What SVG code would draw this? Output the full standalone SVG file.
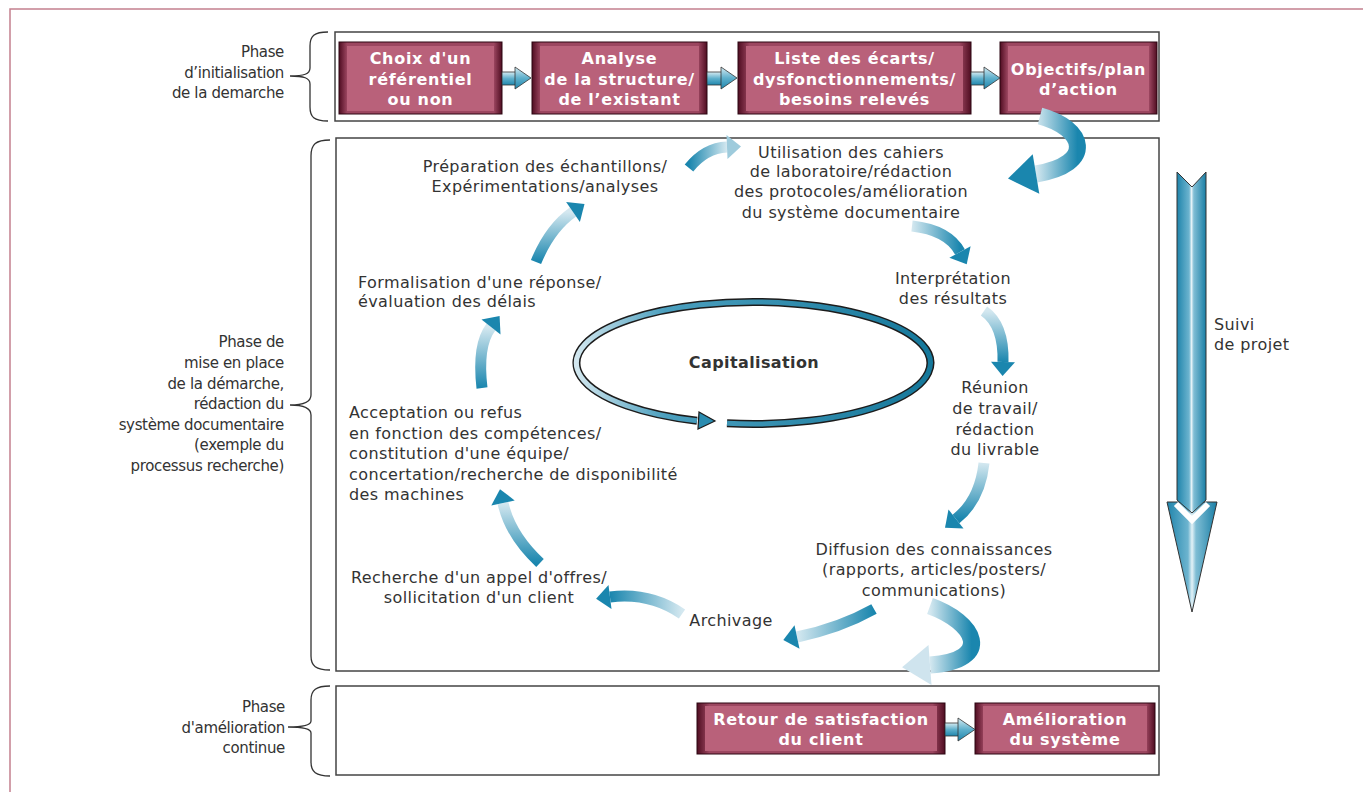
<svg xmlns="http://www.w3.org/2000/svg" width="1363" height="792" viewBox="0 0 1363 792">
<style>
.t{font-family:"DejaVu Sans",Verdana,sans-serif;font-size:16px;fill:#333;letter-spacing:0.4px}
.c{text-anchor:middle}
.ph{font-size:15px;text-anchor:end;letter-spacing:-0.35px}
.bx{font-family:"DejaVu Sans",Verdana,sans-serif;font-weight:bold;font-size:16px;fill:#fff;text-anchor:middle;letter-spacing:0.7px}
.panel{fill:#fff;stroke:#444;stroke-width:1.5}
.brace{fill:none;stroke:#333;stroke-width:1.3}
.bo{fill:url(#bev);stroke:#2d0612;stroke-width:1}
.bi{fill:#b9617a}
.sa{fill:url(#sa);stroke:#333;stroke-width:0.8}
.rib{fill:none;stroke-width:11}
.big{fill:none;stroke-width:17}
</style>
<defs>
<linearGradient id="bev" x1="0" y1="0" x2="1" y2="0">
<stop offset="0" stop-color="#4f0d21"/><stop offset="0.05" stop-color="#9c4660"/><stop offset="0.95" stop-color="#9c4660"/><stop offset="1" stop-color="#4f0d21"/>
</linearGradient>
<linearGradient id="sa" x1="0" y1="0" x2="0" y2="1">
<stop offset="0" stop-color="#d6ebf2"/><stop offset="0.5" stop-color="#5fb0cc"/><stop offset="1" stop-color="#1f86ad"/>
</linearGradient>
<linearGradient id="rA" x1="0" y1="0" x2="1" y2="0">
<stop offset="0" stop-color="#1a86ae"/><stop offset="1" stop-color="#d4e8f0"/>
</linearGradient>
<linearGradient id="rB" x1="1" y1="0" x2="0" y2="0">
<stop offset="0" stop-color="#1a86ae"/><stop offset="1" stop-color="#d4e8f0"/>
</linearGradient>
<linearGradient id="rC" x1="0" y1="0" x2="0" y2="1">
<stop offset="0" stop-color="#d4e8f0"/><stop offset="1" stop-color="#1a86ae"/>
</linearGradient>
<linearGradient id="rD" x1="0" y1="1" x2="0" y2="0">
<stop offset="0" stop-color="#1a86ae"/><stop offset="1" stop-color="#d4e8f0"/>
</linearGradient>
<linearGradient id="vs" x1="0" y1="0" x2="1" y2="0">
<stop offset="0" stop-color="#1f84ab"/><stop offset="0.42" stop-color="#6db4cf"/><stop offset="0.5" stop-color="#e4f2f7"/><stop offset="0.58" stop-color="#7fbdd4"/><stop offset="1" stop-color="#1a7fa6"/>
</linearGradient>
<linearGradient id="ring" x1="0" y1="0" x2="1" y2="0">
<stop offset="0" stop-color="#d2e7ef"/><stop offset="0.25" stop-color="#4b9fbe"/><stop offset="1" stop-color="#15789b"/>
</linearGradient>
</defs>

<rect x="10" y="9" width="1400" height="800" fill="none" stroke="#c4808f" stroke-width="1.5"/>

<!-- panels -->
<g id="panel-init">
<rect class="panel" x="335" y="32" width="824" height="89"/>
<path class="brace" d="M328,32 C314,32 310,36 310,46 L310,68 C310,74 304,76 290,76 C304,76 310,78 310,84 L310,107 C310,117 314,121 328,121"/>
<text class="t ph" x="284" y="57">Phase</text>
<text class="t ph" x="284" y="78">d’initialisation</text>
<text class="t ph" x="284" y="98">de la demarche</text>
</g>
<g id="panel-mise">
<rect class="panel" x="336" y="138" width="823" height="533"/>
<path class="brace" d="M330,140 C316,140 311,144 311,156 L311,395 C311,401 305,405 290,405 C305,405 311,409 311,415 L311,656 C311,666 316,670 330,670"/>
<text class="t ph" x="284" y="347">Phase de</text>
<text class="t ph" x="284" y="368">mise en place</text>
<text class="t ph" x="284" y="389">de la démarche,</text>
<text class="t ph" x="284" y="409">rédaction du</text>
<text class="t ph" x="284" y="430">système documentaire</text>
<text class="t ph" x="284" y="450">(exemple du</text>
<text class="t ph" x="284" y="471">processus recherche)</text>
</g>
<g id="panel-amelio">
<rect class="panel" x="336" y="686" width="823" height="89"/>
<path class="brace" d="M330,686 C316,686 311,690 311,700 L311,721 C311,725 305,727 288,727 C305,727 311,729 311,733 L311,762 C311,772 316,776 330,776"/>
<text class="t ph" x="285" y="712">Phase</text>
<text class="t ph" x="285" y="733">d'amélioration</text>
<text class="t ph" x="285" y="753">continue</text>
</g>

<!-- box nodes -->
<g id="box-choix">
<rect class="bo" x="339" y="42" width="163" height="72"/>
<rect class="bi" x="347" y="46" width="147" height="65"/>
<text class="bx" x="420.5" y="64">Choix d'un</text>
<text class="bx" x="420.5" y="84.5">référentiel</text>
<text class="bx" x="420.5" y="105">ou non</text>
</g>
<g id="box-analyse">
<rect class="bo" x="532" y="42" width="175" height="72"/>
<rect class="bi" x="540" y="46" width="159" height="65"/>
<text class="bx" x="619.5" y="64">Analyse</text>
<text class="bx" x="619.5" y="84.5">de la structure/</text>
<text class="bx" x="619.5" y="105">de l’existant</text>
</g>
<g id="box-liste">
<rect class="bo" x="738" y="42" width="233" height="72"/>
<rect class="bi" x="746" y="46" width="217" height="65"/>
<text class="bx" x="854.5" y="64">Liste des écarts/</text>
<text class="bx" x="854.5" y="84.5">dysfonctionnements/</text>
<text class="bx" x="854.5" y="105">besoins relevés</text>
</g>
<g id="box-objectifs">
<rect class="bo" x="1000" y="42" width="157" height="72"/>
<rect class="bi" x="1008" y="46" width="141" height="65"/>
<text class="bx" x="1078.5" y="75">Objectifs/plan</text>
<text class="bx" x="1078.5" y="95">d’action</text>
</g>
<g id="box-retour">
<rect class="bo" x="697" y="703" width="248" height="51"/>
<rect class="bi" x="705" y="706" width="232" height="45"/>
<text class="bx" x="821" y="725">Retour de satisfaction</text>
<text class="bx" x="821" y="745">du client</text>
</g>
<g id="box-amelioration">
<rect class="bo" x="975" y="703" width="180" height="51"/>
<rect class="bi" x="983" y="706" width="164" height="45"/>
<text class="bx" x="1065" y="725">Amélioration</text>
<text class="bx" x="1065" y="745">du système</text>
</g>

<!-- cycle text nodes -->
<g id="n-preparation">
<text class="t c" x="545" y="172">Préparation des échantillons/</text>
<text class="t c" x="545" y="192">Expérimentations/analyses</text>
</g>
<g id="n-utilisation">
<text class="t c" x="851" y="158">Utilisation des cahiers</text>
<text class="t c" x="851" y="177">de laboratoire/rédaction</text>
<text class="t c" x="851" y="197">des protocoles/amélioration</text>
<text class="t c" x="851" y="218">du système documentaire</text>
</g>
<g id="n-interpretation">
<text class="t c" x="953" y="284">Interprétation</text>
<text class="t c" x="953" y="304">des résultats</text>
</g>
<g id="n-reunion">
<text class="t c" x="995" y="393">Réunion</text>
<text class="t c" x="995" y="414">de travail/</text>
<text class="t c" x="995" y="435">rédaction</text>
<text class="t c" x="995" y="455">du livrable</text>
</g>
<g id="n-diffusion">
<text class="t c" x="934" y="555">Diffusion des connaissances</text>
<text class="t c" x="934" y="575">(rapports, articles/posters/</text>
<text class="t c" x="934" y="596">communications)</text>
</g>
<g id="n-archivage">
<text class="t c" x="731" y="626">Archivage</text>
</g>
<g id="n-recherche">
<text class="t c" x="479" y="583">Recherche d'un appel d'offres/</text>
<text class="t c" x="479" y="603">sollicitation d'un client</text>
</g>
<g id="n-acceptation">
<text class="t" x="349" y="418">Acceptation ou refus</text>
<text class="t" x="349" y="439">en fonction des compétences/</text>
<text class="t" x="349" y="459">constitution d'une équipe/</text>
<text class="t" x="349" y="480">concertation/recherche de disponibilité</text>
<text class="t" x="349" y="500">des machines</text>
</g>
<g id="n-formalisation">
<text class="t" x="358" y="288">Formalisation d'une réponse/</text>
<text class="t" x="358" y="307">évaluation des délais</text>
</g>
<g id="n-capitalisation">
<path d="M727,423.3 A177,61 0 1 0 697,420.8" fill="none" stroke="#1c1c1c" stroke-width="8"/>
<path d="M727,423.3 A177,61 0 1 0 697,420.8" fill="none" stroke="url(#ring)" stroke-width="5"/>
<polygon points="699,412 715,421 698,429" fill="#2a8cb0" stroke="#1c1c1c" stroke-width="1.2"/>
<text class="t c" x="754" y="368" font-weight="bold">Capitalisation</text>
</g>
<g id="n-suivi">
<polygon points="1167,502 1217,502 1192,612" fill="url(#vs)" stroke="#333" stroke-width="1"/>
<polyline points="1176,504 1192,520 1208,504" fill="none" stroke="#fff" stroke-width="6"/>
<polygon points="1177,172 1192,187 1206,172 1206,500 1192,513 1177,500" fill="url(#vs)" stroke="#333" stroke-width="1"/>
<text class="t" x="1214" y="330">Suivi</text>
<text class="t" x="1214" y="350">de projet</text>
</g>

<!-- connectors -->
<g id="connectors">
<rect class="sa" x="502" y="72" width="14" height="13"/><polygon class="sa" points="515,67 531,78 515,89"/>
<rect class="sa" x="707" y="72" width="15" height="13"/><polygon class="sa" points="721,67 737,78 721,89"/>
<rect class="sa" x="971" y="72" width="14" height="13"/><polygon class="sa" points="984,67 1000,78 984,89"/>
<rect class="sa" x="945" y="723" width="14" height="13"/><polygon class="sa" points="958,718 975,729.5 958,741"/>

<path class="rib" stroke="url(#rA)" d="M689,168 Q705,148 727,147"/>
<polygon fill="#9ecbdc" points="727.5,159 741,146.4 726.5,135"/>
<path class="rib" stroke="url(#rB)" d="M912,226 Q948,230 960,252"/>
<polygon fill="#1a86ae" points="949.4,257.8 966.7,264.3 970.6,246.2"/>
<path class="rib" stroke="url(#rC)" d="M984,311 Q1004,325 1003,362"/>
<polygon fill="#1a86ae" points="1015,362.3 1002.6,376 991,361.7"/>
<path class="rib" stroke="url(#rC)" d="M984,463 Q980,500 956,519"/>
<polygon fill="#1a86ae" points="963.5,528.4 945,527.7 948.5,509.6"/>
<path class="rib" stroke="url(#rB)" d="M874,609 Q840,628 797,637"/>
<polygon fill="#1a86ae" points="799.5,648.7 783.3,639.9 794.5,625.3"/>
<path class="rib" stroke="url(#rA)" d="M682,614 Q650,592 610,597"/>
<polygon fill="#1a86ae" points="611.5,608.9 596.1,598.7 608.5,585.1"/>
<path class="rib" stroke="url(#rD)" d="M540,563 Q510,535 503,503"/>
<polygon fill="#1a86ae" points="514.7,500.4 500,489.3 491.3,505.6"/>
<path class="rib" stroke="url(#rD)" d="M482,388 Q477,345 491,327"/>
<polygon fill="#1a86ae" points="500.5,334.4 499.6,316 481.5,319.6"/>
<path class="rib" stroke="url(#rD)" d="M536,262 Q550,228 573,212"/>
<polygon fill="#1a86ae" points="579.9,221.9 584.5,204 566.1,202.1"/>

<path class="big" stroke="url(#rB)" d="M1040,116 C1085,128 1096,164 1036,174"/>
<polygon fill="#1a86ae" points="1039.3,193.7 1008,178.6 1032.7,154.3"/>
<path class="big" stroke="url(#rB)" d="M930,606 C975,622 995,660 930,665"/>
<polygon fill="#cfe4ee" points="931.5,684.9 902.1,667.2 928.5,645.1"/>
</g>
</svg>
